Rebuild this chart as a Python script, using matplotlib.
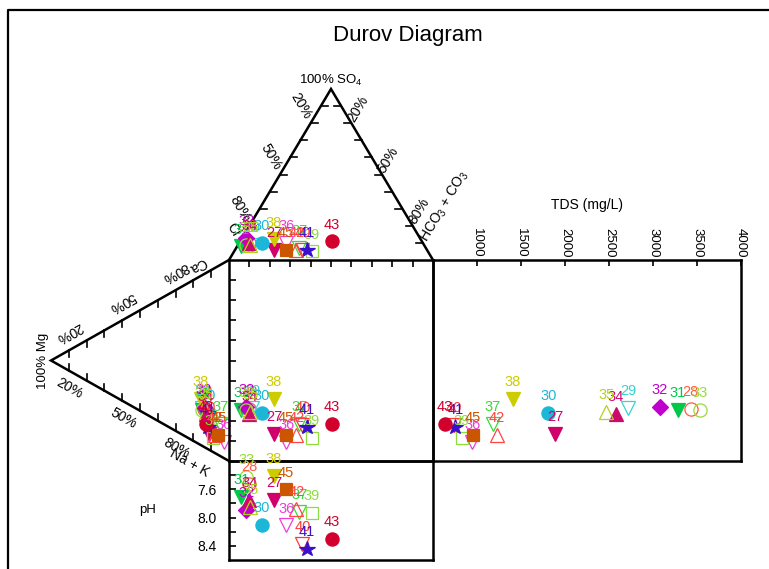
import numpy as np
import matplotlib
matplotlib.use("Agg")
import matplotlib.pyplot as plt
from matplotlib.lines import Line2D

plt.rcParams['font.family'] = ['Liberation Sans', 'DejaVu Sans']
plt.rcParams['mathtext.fontset'] = 'custom'
plt.rcParams['mathtext.rm'] = 'Liberation Sans'
plt.rcParams['mathtext.it'] = 'Liberation Sans:italic'
plt.rcParams['mathtext.bf'] = 'Liberation Sans:bold'

# water samples (meq %)
sample_ids = [27, 28, 29, 30, 31, 32, 33, 34, 35, 36, 37, 38, 39, 40, 41, 42, 43, 45]
ca   = [8, 19, 19, 18, 18, 20, 18, 17, 18, 8, 16, 23, 7, 12, 11, 9, 12, 10]
mg   = [11, 14, 15, 12, 15, 14, 15, 13, 13, 3, 5, 16, 9, 12, 12, 8, 13, 6]
nak  = [81, 67, 66, 70, 67, 66, 67, 70, 69, 89, 79, 61, 84, 76, 77, 83, 75, 84]
cl   = [75, 85, 84, 79, 90, 85, 87, 85, 85, 67, 62, 72, 57, 61, 59, 64, 44, 69]
so4  = [6, 10, 9, 10, 8, 13, 9, 10, 9, 10, 7, 12, 5, 6, 6, 6, 11, 6]
hco3 = [19, 5, 7, 11, 2, 2, 4, 5, 6, 23, 31, 16, 38, 33, 35, 30, 45, 25]
tds  = [1890, 3430, 2720, 1810, 3280, 3080, 3530, 2580, 2470, 945, 1180, 1410, 830, 740, 755, 1225, 635, 955]
ph   = [7.75, 7.52, np.nan, 8.10, 7.71, 7.89, 7.42, 7.75, 7.85, 8.11, 7.92, 7.41, 7.93, 8.37, 8.44, 7.88, 8.30, 7.60]

# symbol for each sample
marker_shapes = ['v', 'o', 'v', 'o', 'v', 'D', 'o', '^', '^', 'v', 'v', 'v', 's', 'v', '*', '^', 'o', 's']
marker_filled = [True, False, False, True, True, True, False, True, False, False, False, True, False, False, True, False, True, True]
marker_colors = ['#d1006b', '#ff5a3c', '#36d3d0', '#1cb6d6', '#00c94a', '#c000cc', '#96dc3a', '#cc0a6e', '#b0d41c',
                 '#f03cd8', '#33dd33', '#cccc00', '#8fdc40', '#ff3838', '#3a10cc', '#ff4545', '#d2002c', '#cc5500']
marker_sizes = {'o': 9.5, 'v': 10, '^': 10, 'D': 8, 's': 9, '*': 11.5}

ca, mg, nak = np.array(ca, float), np.array(mg, float), np.array(nak, float)
cl, so4, hco3 = np.array(cl, float), np.array(so4, float), np.array(hco3, float)
tds, ph = np.array(tds, float), np.array(ph, float)

# position inside the square: anions along x, cations along y
anion_x = hco3 + so4 / 2.0
cation_y = nak + mg / 2.0

# layout in pixels
W, H = 769, 569
SQ_L, SQ_T, SQ_W, SQ_H = 229, 260, 204, 201
TOP_H = 171
LEFT_W = 178
TDS_W = 308
PH_H = 99
LW = 1.8

fig = plt.figure(figsize=(W / 100, H / 100), dpi=100)


def fig_rect(l, t, w, h):
    return [l / W, 1 - (t + h) / H, w / W, h / H]


bg = fig.add_axes([0, 0, 1, 1])
bg.set_xlim(0, W)
bg.set_ylim(H, 0)
bg.axis('off')

# outer frame
fig.add_artist(Line2D([8 / W, 8 / W, 1.02], [-0.02, 1 - 10 / H, 1 - 10 / H],
                      transform=fig.transFigure, color='black', lw=1.6))

fig.text(408 / W, 1 - 36 / H, 'Durov Diagram', ha='center', va='center', fontsize=16)


def draw_samples(ax, xs, ys):
    for i, sid in enumerate(sample_ids):
        if np.isnan(xs[i]) or np.isnan(ys[i]):
            continue
        c = marker_colors[i]
        m = marker_shapes[i]
        ax.plot(xs[i], ys[i], ls='none', marker=m, ms=marker_sizes[m],
                mfc=c if marker_filled[i] else 'none', mec=c, mew=0.9, clip_on=False)
        ax.annotate(str(sid), (xs[i], ys[i]), xytext=(0, 12), textcoords='offset points',
                    ha='center', va='center', color=c, fontsize=10.5, annotation_clip=False)


# ---- anion triangle (top) ----
apex_top = (SQ_L + SQ_W / 2, SQ_T - TOP_H)
cl_corner = (SQ_L, SQ_T)
hco3_corner = (SQ_L + SQ_W, SQ_T)
bg.plot([cl_corner[0], apex_top[0], hco3_corner[0]], [cl_corner[1], apex_top[1], hco3_corner[1]],
        color='black', lw=LW, solid_joinstyle='miter')
for s in range(10, 100, 10):
    ty = SQ_T - s / 100 * TOP_H
    xl = SQ_L + s / 100 * SQ_W / 2
    xr = SQ_L + SQ_W - s / 100 * SQ_W / 2
    bg.plot([xl, xl + 7], [ty, ty], color='black', lw=1.2)
    bg.plot([xr, xr - 7], [ty, ty], color='black', lw=1.2)

# ---- cation triangle (left) ----
apex_left = (SQ_L - LEFT_W, SQ_T + SQ_H / 2)
ca_corner = (SQ_L, SQ_T)
nak_corner = (SQ_L, SQ_T + SQ_H)
bg.plot([ca_corner[0], apex_left[0], nak_corner[0]], [ca_corner[1], apex_left[1], nak_corner[1]],
        color='black', lw=LW, solid_joinstyle='miter')
for m in range(10, 100, 10):
    tx = SQ_L - m / 100 * LEFT_W
    yu = SQ_T + m / 100 * SQ_H / 2
    yl = SQ_T + SQ_H - m / 100 * SQ_H / 2
    bg.plot([tx, tx], [yu, yu + 7], color='black', lw=1.2)
    bg.plot([tx, tx], [yl, yl - 7], color='black', lw=1.2)


def edge_point(p0, p1, t, along, normal, inner):
    p0, p1, inner = np.array(p0, float), np.array(p1, float), np.array(inner, float)
    u = (p1 - p0) / np.linalg.norm(p1 - p0)
    n = np.array([u[1], -u[0]])
    if np.dot(n, inner - p0) > 0:
        n = -n
    return p0 + (p1 - p0) * t + u * along + n * normal


def screen_angle(p0, p1):
    return np.degrees(np.arctan2(-(p1[1] - p0[1]), p1[0] - p0[0]))


top_centre = (SQ_L + SQ_W / 2, SQ_T - TOP_H / 3)
left_centre = (SQ_L - LEFT_W / 3, SQ_T + SQ_H / 2)
pct_labels = [(0.2, '20%'), (0.5, '50%'), (0.8, '80%')]
fs = 10

rot = -screen_angle(cl_corner, apex_top)
for t, txt in pct_labels:
    x, y = edge_point(apex_top, cl_corner, t, -10, 17, top_centre)
    bg.text(x, y, txt, rotation=rot, ha='center', va='center', fontsize=fs, rotation_mode='anchor')
x, y = edge_point(apex_top, cl_corner, 1.0, -28, 12, top_centre)
bg.text(x, y, 'Cl', rotation=rot, ha='center', va='center', fontsize=fs, rotation_mode='anchor')

rot = -screen_angle(apex_top, hco3_corner)
for t, txt in pct_labels:
    x, y = edge_point(apex_top, hco3_corner, t, -9, 13, top_centre)
    bg.text(x, y, txt, rotation=rot, ha='center', va='center', fontsize=fs, rotation_mode='anchor')
x, y = edge_point(apex_top, hco3_corner, 1.0, -40, 37, top_centre)
bg.text(x, y, 'HCO$_3$ + CO$_3$', rotation=rot, ha='center', va='center', fontsize=fs,
        rotation_mode='anchor')
bg.text(apex_top[0], apex_top[1] - 9, '100% SO$_4$', ha='center', va='center', fontsize=9.5)

rot = screen_angle(apex_left, ca_corner) + 180
for t, txt in pct_labels:
    x, y = edge_point(apex_left, ca_corner, t, -12, 15.5, left_centre)
    bg.text(x, y, txt, rotation=rot, ha='center', va='center', fontsize=fs, rotation_mode='anchor')
x, y = edge_point(apex_left, ca_corner, 1.0, -30, 11, left_centre)
bg.text(x, y, 'Ca', rotation=rot, ha='center', va='center', fontsize=fs, rotation_mode='anchor')

rot = screen_angle(apex_left, nak_corner)
for t, txt in pct_labels:
    x, y = edge_point(apex_left, nak_corner, t, -11, 15, left_centre)
    bg.text(x, y, txt, rotation=rot, ha='center', va='center', fontsize=fs, rotation_mode='anchor')
x, y = edge_point(apex_left, nak_corner, 1.0, -33, 21, left_centre)
bg.text(x, y, 'Na + K', rotation=rot, ha='center', va='center', fontsize=fs, rotation_mode='anchor')
bg.text(apex_left[0] - 8, apex_left[1], '100% Mg', rotation=90, ha='center', va='center', fontsize=9.5)

# ternary points
top_x = SQ_L + anion_x / 100 * SQ_W
top_y = SQ_T - so4 / 100 * TOP_H
left_x = SQ_L - mg / 100 * LEFT_W
left_y = SQ_T + cation_y / 100 * SQ_H
draw_samples(bg, top_x, top_y)
draw_samples(bg, left_x, left_y)

# ---- central square ----
ax_sq = fig.add_axes(fig_rect(SQ_L, SQ_T, SQ_W, SQ_H))
ax_sq.set_facecolor('none')
ax_sq.set_xlim(0, 100)
ax_sq.set_ylim(100, 0)
ax_sq.set_xticks(np.arange(10, 100, 10))
ax_sq.set_yticks(np.arange(10, 100, 10))
ax_sq.tick_params(axis='x', top=True, bottom=False, labeltop=False, labelbottom=False,
                  direction='in', length=5, width=1.2)
ax_sq.tick_params(axis='y', left=True, right=False, labelleft=False,
                  direction='in', length=5, width=1.2)
draw_samples(ax_sq, anion_x, cation_y)

# ---- TDS panel ----
ax_tds = fig.add_axes(fig_rect(SQ_L + SQ_W, SQ_T, TDS_W, SQ_H))
ax_tds.set_facecolor('none')
ax_tds.set_xlim(500, 4000)
ax_tds.set_ylim(100, 0)
ax_tds.set_xticks(np.arange(1000, 4001, 500))
ax_tds.set_yticks([])
ax_tds.tick_params(axis='x', top=True, bottom=False, labeltop=True, labelbottom=False,
                   direction='in', length=4.5, width=1.2, labelrotation=-90, labelsize=9.5, pad=2)
ax_tds.text(0.5, 1.275, 'TDS (mg/L)', transform=ax_tds.transAxes, ha='center', va='center', fontsize=10)
draw_samples(ax_tds, tds, cation_y)

# ---- pH panel ----
ax_ph = fig.add_axes(fig_rect(SQ_L, SQ_T + SQ_H, SQ_W, PH_H))
ax_ph.set_facecolor('none')
ax_ph.set_xlim(0, 100)
ax_ph.set_ylim(8.6, 7.2)
ax_ph.set_xticks([])
ax_ph.set_yticks([7.6, 8.0, 8.4])
ax_ph.set_yticklabels(['7.6', '8.0', '8.4'])
ax_ph.set_yticks([7.4, 7.8, 8.2], minor=True)
ax_ph.tick_params(axis='y', which='both', left=True, direction='in', length=5, width=1.2,
                  labelsize=10, pad=9)
ax_ph.text(-0.4, 0.51, 'pH', transform=ax_ph.transAxes, ha='center', va='center', fontsize=9.5)
draw_samples(ax_ph, anion_x, ph)

for a in (ax_sq, ax_tds, ax_ph):
    for sp in a.spines.values():
        sp.set_linewidth(LW)

fig.savefig('out.png', dpi=100)
